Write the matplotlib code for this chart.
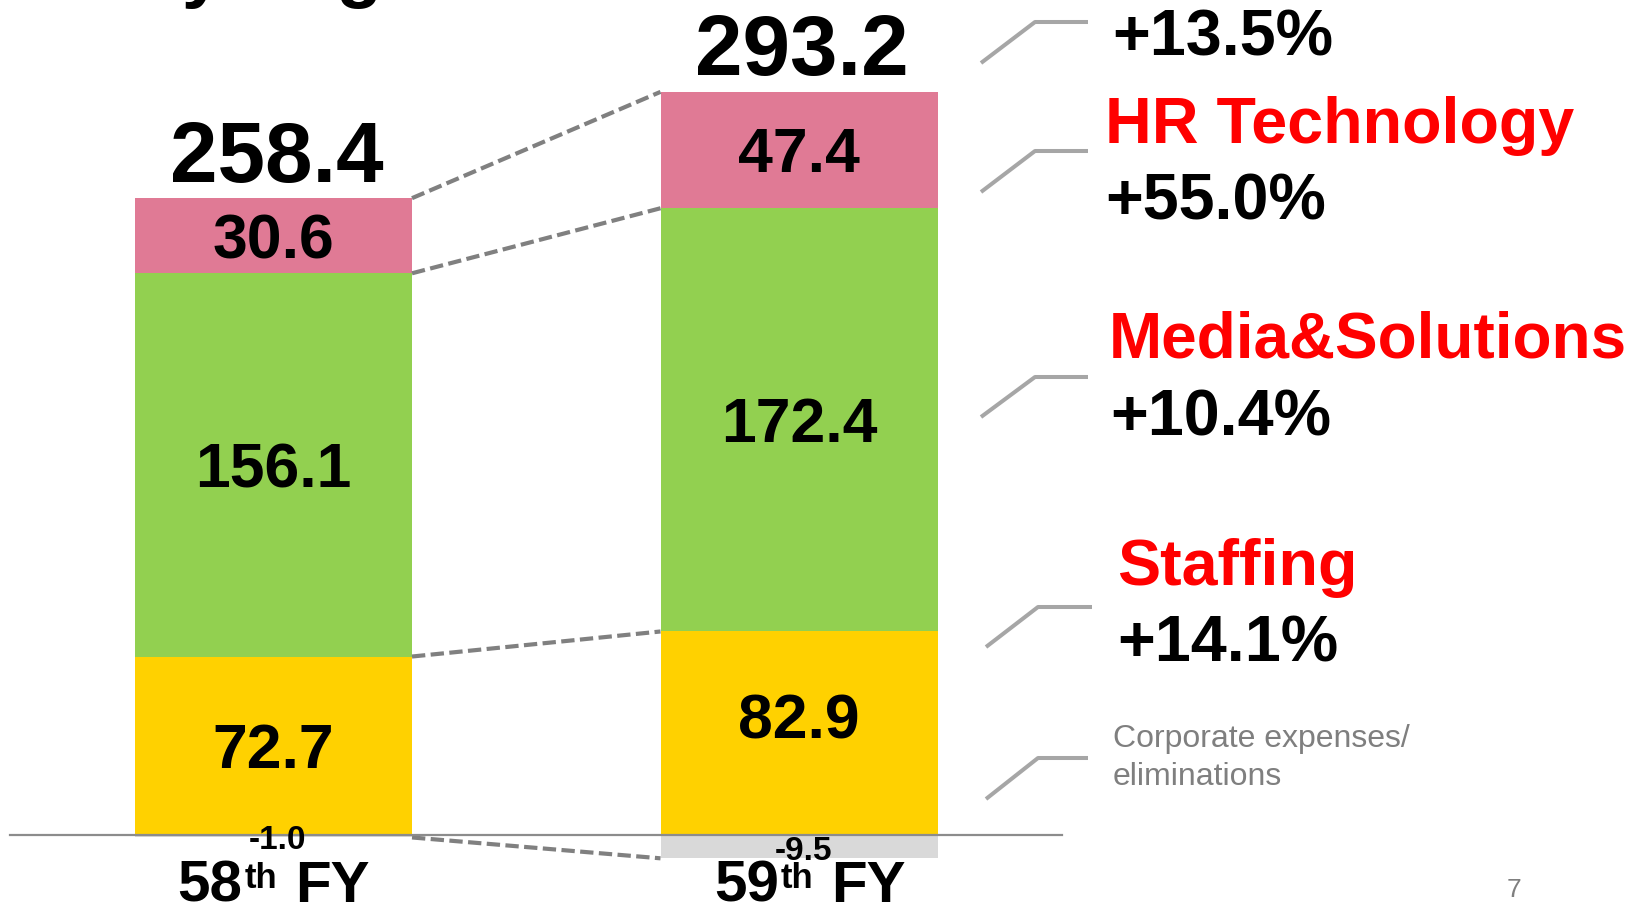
import matplotlib
matplotlib.use("Agg")
import matplotlib.pyplot as plt
import matplotlib.transforms as mtransforms

# ---------------- data ----------------
years = ["58", "59"]
year_suffix = "th"
year_word = "FY"
staffing = [72.7, 82.9]
media_solutions = [156.1, 172.4]
hr_technology = [30.6, 47.4]
corporate = [-1.0, -9.5]
totals = [258.4, 293.2]

growth_total = "+13.5%"
segment_names = ["HR Technology", "Media&Solutions", "Staffing"]
segment_growth = ["+55.0%", "+10.4%", "+14.1%"]
corp_label = "Corporate expenses/\neliminations"
title_fragment = "by Segment"
page_number = "7"

# ---------------- style ----------------
plt.rcParams["font.family"] = ["Liberation Sans", "DejaVu Sans"]

YELLOW = "#FFD100"
GREEN = "#92D050"
PINK = "#E07A95"
GREY = "#D9D9D9"
RED = "#FF0000"
DASH = "#808080"
CONN = "#A6A6A6"
GTEXT = "#7F7F7F"

W, H = 1632, 909
PX = 100 / 72.0  # pixels per point

fig = plt.figure(figsize=(W / 100, H / 100), dpi=100)
ax = fig.add_axes([0, 0, 1, 1])
px_per_unit = 2.455
base_px = 835
ax.set_xlim(0, W)
ax.set_ylim(-(H - base_px) / px_per_unit, base_px / px_per_unit)
ax.axis("off")

# pixel transform (origin top-left)
ptr = mtransforms.Affine2D().scale(1 / W, -1 / H).translate(0, 1) + fig.transFigure

xpos = [273.5, 799.0]
bw = 277

bottom_media = staffing
bottom_hr = [s + m for s, m in zip(staffing, media_solutions)]
tops = [b + h for b, h in zip(bottom_hr, hr_technology)]

ax.bar(xpos, staffing, bw, color=YELLOW, zorder=2)
ax.bar(xpos, media_solutions, bw, bottom=bottom_media, color=GREEN, zorder=2)
ax.bar(xpos, hr_technology, bw, bottom=bottom_hr, color=PINK, zorder=2)
ax.bar(xpos, corporate, bw, color=GREY, zorder=2)


def centered_label(x, y, text, size, dy_px=0, dx_px=0, color="black", weight="bold"):
    cap_pt = 0.716 * size
    ax.annotate(text, (x, y), xytext=(dx_px / PX, -cap_pt / 2 + dy_px / PX),
                textcoords="offset points", ha="center", va="baseline",
                fontsize=size, fontweight=weight, color=color, zorder=5)


SEG_FS = 45
staffing_nudge = [0, 17]   # label raise in pixels (as in the original)
for i, x in enumerate(xpos):
    centered_label(x, staffing[i] / 2, f"{staffing[i]:.1f}", SEG_FS, dy_px=staffing_nudge[i])
    centered_label(x, bottom_media[i] + media_solutions[i] / 2, f"{media_solutions[i]:.1f}", SEG_FS)
    centered_label(x, bottom_hr[i] + hr_technology[i] / 2, f"{hr_technology[i]:.1f}", SEG_FS)
    centered_label(x, corporate[i] / 2, f"{corporate[i]:.1f}", 24, dx_px=4, dy_px=-1)
    # total above bar
    tot_fs = 61.5
    cap_px = 0.716 * tot_fs * PX
    ax.annotate(f"{totals[i]:.1f}", (x, tops[i]), xytext=(3 / PX, (47 - cap_px / 2) / PX),
                textcoords="offset points", ha="center", va="baseline",
                fontsize=tot_fs, fontweight="bold", zorder=5)

# dashed connectors between bars
left_levels = [corporate[0], staffing[0], bottom_hr[0], tops[0]]
right_levels = [corporate[1], staffing[1], bottom_hr[1], tops[1]]
for l, r in zip(left_levels, right_levels):
    ax.plot([xpos[0] + bw / 2, xpos[1] - bw / 2], [l, r], color=DASH, lw=3.0,
            dashes=(3.2, 1.3), zorder=3, dash_capstyle="butt")

# baseline
ax.plot([10, 1062], [0, 0], color="#8C8C8C", lw=1.6, zorder=4)

# x labels: "58" + superscript "th" + "FY"
renderer = fig.canvas.get_renderer()
XL_FS, SUP_FS = 42, 25
label_shift = [0, 11]
for x, yname, sh in zip(xpos, years, label_shift):
    t1 = fig.text(0, 902, yname, transform=ptr, fontsize=XL_FS, fontweight="bold", va="baseline")
    t2 = fig.text(0, 888, year_suffix, transform=ptr, fontsize=SUP_FS, fontweight="bold", va="baseline")
    t3 = fig.text(0, 902, year_word, transform=ptr, fontsize=XL_FS, fontweight="bold", va="baseline")
    w1 = t1.get_window_extent(renderer).width
    w2 = t2.get_window_extent(renderer).width
    w3 = t3.get_window_extent(renderer).width
    gap1, gap2 = 2, 18
    total_w = w1 + gap1 + w2 + gap2 + w3
    x0 = x + sh - total_w / 2
    t1.set_x(x0)
    t2.set_x(x0 + w1 + gap1)
    t3.set_x(x0 + w1 + gap1 + w2 + gap2)

# right-side connectors
connectors = [
    [(981, 63), (1035, 22), (1088, 22)],
    [(981, 192), (1035, 151), (1088, 151)],
    [(981, 417), (1035, 377), (1088, 377)],
    [(986, 647), (1038, 607), (1092, 607)],
    [(986, 799), (1038, 758), (1088, 758)],
]
for pts in connectors:
    xs = [p[0] for p in pts]
    ys = [p[1] for p in pts]
    line = plt.Line2D(xs, ys, transform=ptr, color=CONN, lw=2.9, solid_capstyle="butt")
    fig.add_artist(line)

R_FS = 46.5
fig.text(1112, 56, growth_total, transform=ptr, fontsize=R_FS, fontweight="bold", va="baseline")
fig.text(1105, 143, segment_names[0], transform=ptr, fontsize=R_FS, fontweight="bold",
         color=RED, va="baseline")
fig.text(1105, 220, segment_growth[0], transform=ptr, fontsize=R_FS, fontweight="bold", va="baseline")
fig.text(1109, 358, segment_names[1], transform=ptr, fontsize=46, fontweight="bold",
         color=RED, va="baseline")
fig.text(1110, 435, segment_growth[1], transform=ptr, fontsize=R_FS, fontweight="bold", va="baseline")
fig.text(1117, 585, segment_names[2], transform=ptr, fontsize=R_FS, fontweight="bold",
         color=RED, va="baseline")
fig.text(1117, 662, segment_growth[2], transform=ptr, fontsize=R_FS, fontweight="bold", va="baseline")

corp_lines = corp_label.split("\n")
fig.text(1113, 747, corp_lines[0], transform=ptr, fontsize=23, color=GTEXT, va="baseline")
fig.text(1113, 785, corp_lines[1], transform=ptr, fontsize=23, color=GTEXT, va="baseline")

fig.text(1514, 897, page_number, transform=ptr, fontsize=19, color=GTEXT, ha="center", va="baseline")

# cut-off title fragment at the top
fig.text(136, -6, title_fragment, transform=ptr, fontsize=54, fontweight="bold", va="baseline")

fig.savefig("out.png", dpi=100)
